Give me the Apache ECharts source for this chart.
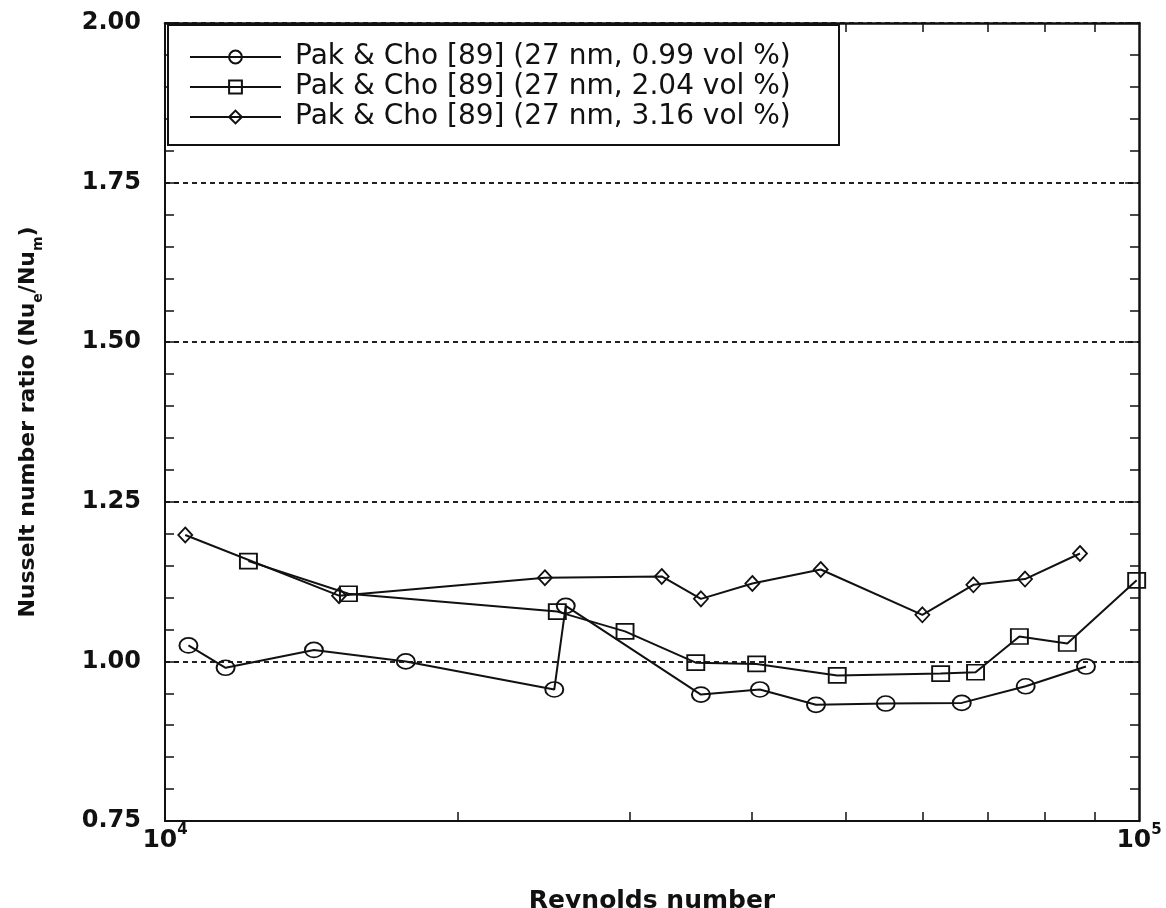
<!DOCTYPE html>
<html><head><meta charset="utf-8">
<script src="https://cdn.jsdelivr.net/npm/echarts@6.0.0/dist/echarts.min.js"></script>
<style>html,body{margin:0;padding:0;background:#fff}#c{width:1166px;height:908px}</style>
</head><body><div id="c"></div>
<script>
// Reynolds number / Nusselt ratio data
const seriesNames = [
  'Pak & Cho [89] (27 nm, 0.99 vol %)',
  'Pak & Cho [89] (27 nm, 2.04 vol %)',
  'Pak & Cho [89] (27 nm, 3.16 vol %)'
];
const reCircle = [10570, 11540, 14220, 17670, 25100, 25790, 35500, 40810, 46600, 54950, 65770, 76500, 88220];
const nuCircle = [1.025, 0.990, 1.018, 1.000, 0.956, 1.087, 0.948, 0.956, 0.932, 0.934, 0.935, 0.961, 0.992];
const reSquare = [12180, 15430, 25280, 29670, 35070, 40500, 49000, 62570, 67950, 75370, 84410, 99450];
const nuSquare = [1.157, 1.106, 1.078, 1.047, 0.998, 0.996, 0.978, 0.981, 0.983, 1.039, 1.028, 1.127];
const reDiamond = [10490, 15090, 24550, 32360, 35500, 40090, 47120, 59920, 67600, 76380, 86980];
const nuDiamond = [1.198, 1.103, 1.131, 1.133, 1.098, 1.122, 1.144, 1.073, 1.120, 1.129, 1.169];
const xMinorTicks = [20000, 30000, 40000, 50000, 60000, 70000, 80000, 90000];
const xMin = 10000, xMax = 100000;
const yMin = 0.75, yMax = 2.0, yStep = 0.25;

const FONT = 'DejaVu Sans';
const INK = '#111';

const chart = echarts.init(document.getElementById('c'), null, {renderer: 'canvas'});

function pairs(xs, ys) { return xs.map((x, i) => [x, ys[i]]); }

const axisLine = {show: true, lineStyle: {color: INK, width: 2}};
const markStyle = {color: 'rgba(255,255,255,0)', borderColor: INK, borderWidth: 1.8};

const option = {
  animation: false,
  backgroundColor: '#fff',
  grid: {left: 165, right: 27, top: 23, bottom: 87, containLabel: false, outerBoundsMode: 'none'},
  xAxis: [{
    type: 'log', logBase: 10, min: xMin, max: xMax, position: 'bottom',
    axisLine: axisLine,
    axisTick: {show: true, inside: true, length: 9, customValues: xMinorTicks, lineStyle: {color: INK, width: 1.5}},
    splitLine: {show: false},
    axisLabel: {
      margin: 2, color: INK,
      formatter: v => '{b|10}{s|' + Math.round(Math.log10(v)) + '}',
      rich: {
        b: {fontFamily: FONT, fontWeight: 'bold', fontSize: 25, lineHeight: 34, color: INK},
        s: {fontFamily: FONT, fontWeight: 'bold', fontSize: 15, lineHeight: 12, verticalAlign: 'top', color: INK}
      }
    },
    name: 'Reynolds number', nameLocation: 'middle', nameGap: 65,
    nameTextStyle: {fontFamily: FONT, fontWeight: 'bold', fontSize: 25, lineHeight: 30, color: INK}
  }, {
    type: 'log', logBase: 10, min: xMin, max: xMax, position: 'top',
    axisLine: {show: true, lineStyle: {color: INK, width: 2.5}},
    axisTick: {show: true, inside: true, length: 9, customValues: xMinorTicks, lineStyle: {color: INK, width: 1.5}},
    axisLabel: {show: false}, splitLine: {show: false}
  }],
  yAxis: [{
    type: 'value', min: yMin, max: yMax, interval: yStep, position: 'left',
    axisLine: axisLine,
    axisTick: {show: true, inside: true, length: 14, lineStyle: {color: INK, width: 1.5}},
    minorTick: {show: true, splitNumber: 5, length: 9, lineStyle: {color: INK, width: 1.5}},
    splitLine: {show: true, lineStyle: {color: '#222', width: 2, type: [5, 4]}},
    axisLabel: {
      margin: 24, color: INK, fontFamily: FONT, fontWeight: 'bold', fontSize: 24,
      formatter: v => v.toFixed(2)
    },
    name: '{n|Nusselt number ratio (Nu}{s|e}{n|/Nu}{s|m}{n|)}',
    nameLocation: 'middle', nameGap: 120,
    nameTextStyle: {
      fontFamily: FONT, fontSize: 22, fontWeight: 'bold', color: INK,
      rich: {
        n: {fontFamily: FONT, fontSize: 22, fontWeight: 'bold', lineHeight: 34, color: INK},
        s: {fontFamily: FONT, fontSize: 14, fontWeight: 'bold', lineHeight: 12, verticalAlign: 'bottom', color: INK}
      }
    }
  }, {
    type: 'value', min: yMin, max: yMax, interval: yStep, position: 'right',
    axisLine: {show: true, lineStyle: {color: INK, width: 2.5}},
    axisTick: {show: true, inside: true, length: 14, lineStyle: {color: INK, width: 1.5}},
    minorTick: {show: true, splitNumber: 5, length: 9, lineStyle: {color: INK, width: 1.5}},
    splitLine: {show: false},
    axisLabel: {show: false}
  }],
  legend: {
    show: true, orient: 'vertical', left: 189, top: 42, padding: 0, itemGap: 0,
    itemWidth: 91, itemHeight: 16, z: 20,
    data: seriesNames,
    textStyle: {fontFamily: FONT, fontSize: 28, lineHeight: 30, color: INK, padding: [0, 0, 0, 9]}
  },
  graphic: [{
    type: 'rect', left: 167, top: 24, z: 15,
    shape: {width: 671, height: 120},
    style: {fill: '#fff', stroke: INK, lineWidth: 2}
  }],
  series: [{
    name: seriesNames[0], type: 'line', data: pairs(reCircle, nuCircle),
    symbol: 'circle', symbolSize: [18, 15], showAllSymbol: true,
    lineStyle: {color: INK, width: 2},
    itemStyle: markStyle
  }, {
    name: seriesNames[1], type: 'line', data: pairs(reSquare, nuSquare),
    symbol: 'rect', symbolSize: [17, 15], showAllSymbol: true,
    lineStyle: {color: INK, width: 2},
    itemStyle: markStyle
  }, {
    name: seriesNames[2], type: 'line', data: pairs(reDiamond, nuDiamond),
    symbol: 'diamond', symbolSize: [14, 15], showAllSymbol: true,
    lineStyle: {color: INK, width: 2},
    itemStyle: markStyle
  }]
};
chart.setOption(option);
</script></body></html>
